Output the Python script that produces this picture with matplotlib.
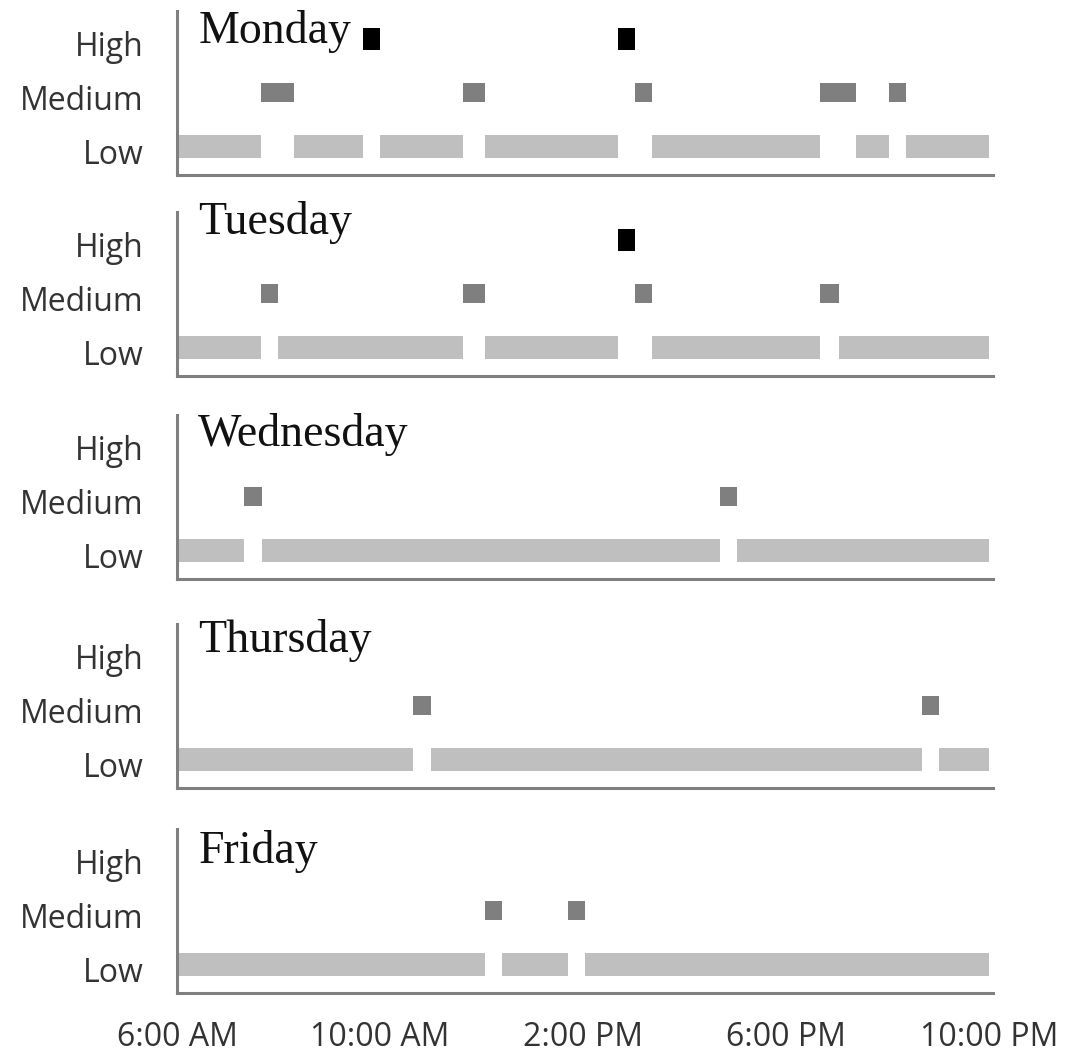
import matplotlib
matplotlib.use('Agg')
from matplotlib import pyplot as plt
from matplotlib.transforms import ScaledTranslation

# state timelines: change times in hours (24h clock) and the level held until the next change
days = ['Monday', 'Tuesday', 'Wednesday', 'Thursday', 'Friday']

monday_times = [6.0, 7.66, 8.3, 9.67, 10.0, 11.64, 12.07, 14.69, 15.02, 15.36, 18.67, 19.38, 20.03, 20.36, 22.0]
monday_levels = ['Low', 'Medium', 'Low', 'High', 'Low', 'Medium', 'Low', 'High', 'Medium', 'Low', 'Medium', 'Low', 'Medium', 'Low']

tuesday_times = [6.0, 7.66, 7.99, 11.64, 12.07, 14.69, 15.02, 15.36, 18.67, 19.04, 22.0]
tuesday_levels = ['Low', 'Medium', 'Low', 'Medium', 'Low', 'High', 'Medium', 'Low', 'Medium', 'Low']

wednesday_times = [6.0, 7.32, 7.67, 16.7, 17.03, 22.0]
wednesday_levels = ['Low', 'Medium', 'Low', 'Medium', 'Low']

thursday_times = [6.0, 10.65, 11.0, 20.68, 21.01, 22.0]
thursday_levels = ['Low', 'Medium', 'Low', 'Medium', 'Low']

friday_times = [6.0, 12.07, 12.4, 13.7, 14.04, 22.0]
friday_levels = ['Low', 'Medium', 'Low', 'Medium', 'Low']

all_times = [monday_times, tuesday_times, wednesday_times, thursday_times, friday_times]
all_levels = [monday_levels, tuesday_levels, wednesday_levels, thursday_levels, friday_levels]

level_names = ['Low', 'Medium', 'High']
tick_hours = [6, 10, 14, 18, 22]
tick_labels = ['6:00 AM', '10:00 AM', '2:00 PM', '6:00 PM', '10:00 PM']

# styling
level_colors = {'Low': '#bfbfbf', 'Medium': '#7f7f7f', 'High': '#000000'}
level_heights = {'Low': 0.42, 'Medium': 0.35, 'High': 0.40}
spine_color = '#7f7f7f'
label_color = '#333333'

W, H = 1066, 1057
fig = plt.figure(figsize=(W / 100, H / 100), dpi=100)

# layout in pixels
ax_left, ax_right = 177, 993
ax_height = 164
ax_bottoms = [175, 376, 579, 788, 993]
title_y = [1.92, 2.12, 1.95, 1.99, 1.88]

for i, day in enumerate(days):
	bottom_px = ax_bottoms[i]
	rect = [ax_left / W, 1 - bottom_px / H, (ax_right - ax_left) / W, ax_height / H]
	ax = fig.add_axes(rect)

	times = all_times[i]
	levels = all_levels[i]
	for start, end, level in zip(times[:-1], times[1:], levels):
		y = level_names.index(level)
		ax.barh(y, end - start, left=start, height=level_heights[level],
			color=level_colors[level], linewidth=0)

	ax.set_xlim(6, 22.08)
	ax.set_ylim(-0.53, 2.52)

	for side in ['top', 'right']:
		ax.spines[side].set_visible(False)
	for side in ['left', 'bottom']:
		ax.spines[side].set_color(spine_color)
		ax.spines[side].set_linewidth(2.2)

	ax.set_yticks(range(len(level_names)))
	ax.set_yticklabels(level_names, fontsize=23, family='Open Sans', color=label_color)
	ax.tick_params(axis='y', length=0, pad=24)
	offset = ScaledTranslation(0, -5 / 100, fig.dpi_scale_trans)
	for lab in ax.get_yticklabels():
		lab.set_transform(lab.get_transform() + offset)

	ax.set_xticks(tick_hours)
	if i == len(days) - 1:
		ax.set_xticklabels(tick_labels, fontsize=23, family='Open Sans', color=label_color)
		ax.tick_params(axis='x', length=0, pad=20)
	else:
		ax.set_xticklabels([])
		ax.tick_params(axis='x', length=0)

	ax.text(6.42, title_y[i], day, family='Liberation Serif', fontsize=33,
		color='#111111', va='baseline', ha='left')

fig.savefig('out.png', dpi=100)
